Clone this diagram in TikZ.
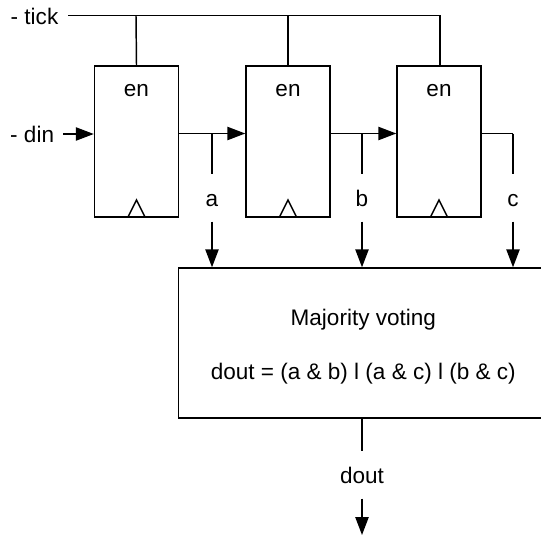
\documentclass[tikz,border=0pt]{standalone}
\usepackage{fontspec}
\setmainfont{Liberation Sans}
\usetikzlibrary{arrows.meta}

\begin{document}
\begin{tikzpicture}[x=0.75pt, y=-0.75pt, line width=1.1pt,
	 >={Triangle[length=13.5pt, width=10pt]},
	 font=\fontsize{16.9}{20}\selectfont,
	 regbox/.style={draw, minimum width=63pt, minimum height=113pt, inner sep=0pt},
	 votebox/.style={draw, minimum width=277pt, minimum height=112.5pt, inner sep=0pt},
	 signame/.style={inner sep=0pt, minimum height=34.5pt, text height=13pt, text depth=0pt}]
	    \useasboundingbox (0,0) rectangle (541,535);
	    \node (reg1) at (136.5,141.5) [regbox] {};
	    \node (reg2) at (288,141.5) [regbox] {};
	    \node (reg3) at (439,141.5) [regbox] {};
	    \node (vote) at (363.3,343) [votebox] {};
	    \node (votetext) at (363.3,346.5) [inner sep=0pt, align=center] {Majority voting\\[20.5pt]dout = (a \& b) l (a \& c) l (b \& c)};
	    % enable labels
	    \node (en1) at (136.5,90.5) [inner sep=0pt] {en};
	    \node (en2) at (288,90.5) [inner sep=0pt] {en};
	    \node (en3) at (439,90.5) [inner sep=0pt] {en};
	    % inputs
	    \node (tick) at (10,16) [inner sep=0pt, anchor=west] {- tick};
	    \node (din) at (9.5,134) [inner sep=0pt, anchor=west] {- din};
	    \coordinate (tick start) at (68,15.5);
	    \coordinate (tick end) at (440,15.5);
	    \draw (tick start) -- (tick end) -- (reg3.north -| tick end);
	    \draw (136,15.5) -- (reg1.north);
	    \draw (288,15.5) -- (reg2.north);
	    \draw[->] (63,134) -- (reg1.west |- 0,134);
	    % outputs
	    \draw[->] (reg1.east |- 0,133.5) -- (reg2.west |- 0,133.5);
	    \draw[->] (reg2.east |- 0,133.5) -- (reg3.west |- 0,133.5);
	    \coordinate (c tap) at (513,133.5);
	    \draw (reg3.east |- c tap) -- (c tap);
	    % voter inputs
	    \node (a) at (212,198) [signame] {a};
	    \node (b) at (362,198) [signame] {b};
	    \node (c) at (513,198) [signame] {c};
	    \draw (212,133.5) -- (a);
	    \draw (362,133.5) -- (b);
	    \draw (c tap) -- (c);
	    \draw[->] (a) -- (a |- vote.north);
	    \draw[->] (b) -- (b |- vote.north);
	    \draw[->] (c) -- (c |- vote.north);
	    % clock marks
	    \draw (128,217) -- (136.5,200) -- (145,217);
	    \draw (279.5,217) -- (288,200) -- (296.5,217);
	    \draw (430.5,217) -- (439,200) -- (447.5,217);
	    % voter output
	    \node (dout) at (362,475) [signame] {dout};
	    \coordinate (dout end) at (362,535);
	    \draw (vote.south -| dout) -- (dout);
	    \draw[->] (dout) -- (dout end);
	 \end{tikzpicture}
\end{document}
